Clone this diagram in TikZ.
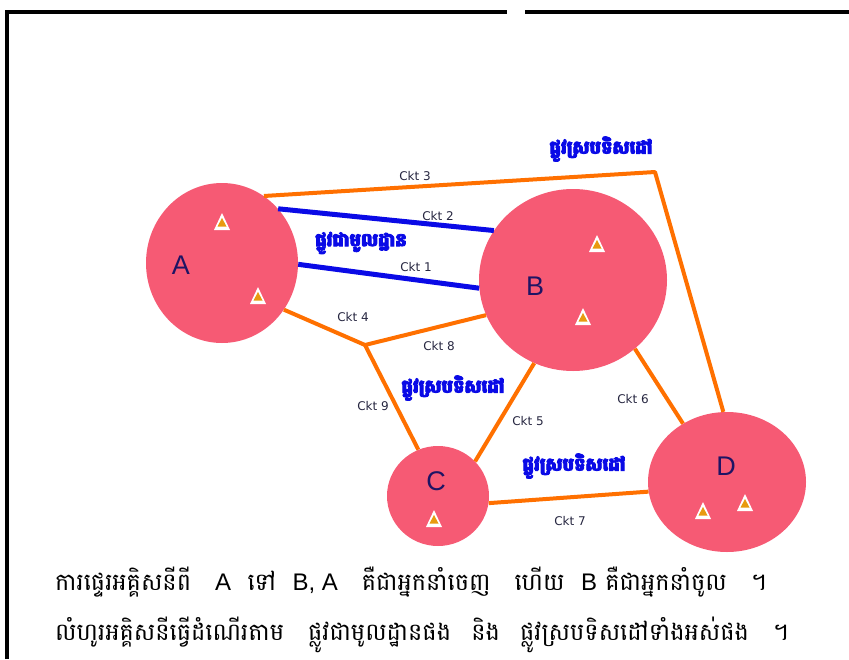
\documentclass[tikz,border=0pt]{standalone}
\usepackage{fontspec}
\setmainfont{Liberation Sans}
\newfontfamily\khmerfont[Script=Khmer]{Battambang}
\newfontfamily\khmerheavy[Script=Khmer,FakeBold=5]{Battambang}
\newfontfamily\latinfont{Liberation Sans}
\newfontfamily\cktfont{DejaVu Sans}
\usetikzlibrary{shapes.geometric}
\definecolor{areapink}{HTML}{F65A74}
\definecolor{tieorange}{HTML}{FF7000}
\definecolor{baseblue}{HTML}{0A0AE6}
\definecolor{lettnavy}{HTML}{1E1464}
\definecolor{cktgray}{HTML}{262640}
\definecolor{genorange}{HTML}{E89A10}
\newcommand{\lat}[1]{{\latinfont #1}}

\begin{document}
\begin{tikzpicture}[
  x=1pt, y=-1pt,
  area/.style={ellipse, fill=areapink, inner sep=0pt},
  lett/.style={font=\fontsize{27}{27}\selectfont, text=lettnavy, inner sep=0pt},
  tie/.style={line width=4pt, draw=tieorange},
  base/.style={line width=5pt, draw=baseblue},
  ckt/.style={font=\cktfont\fontsize{12}{12}\selectfont, text=cktgray, inner sep=0pt},
  pathname/.style={font=\khmerheavy\bfseries\fontsize{18}{18}\selectfont, text=baseblue, inner sep=0pt},
  note/.style={font=\khmerfont\fontsize{24}{24}\selectfont, anchor=west, inner sep=0pt},
  gen/.pic={
    \fill[white] (-8,8) -- (8,8) -- (0,-9) -- cycle;
    \fill[genorange] (-4.5,4.5) -- (4.5,4.5) -- (0,-4) -- cycle;
  },
]
  \useasboundingbox (0,0) rectangle (849,659);

  % frame
  \draw[line width=4pt] (6.5,659) -- (6.5,12) -- (507,12);
  \draw[line width=4pt] (525,12) -- (849,12);

  % areas
  \node[area, minimum width=152pt, minimum height=160pt] (A) at (222,263) {};
  \node[area, minimum width=188pt, minimum height=182pt] (B) at (573,280) {};
  \node[area, minimum width=102pt, minimum height=100pt] (C) at (438,496) {};
  \node[area, minimum width=158pt, minimum height=140pt] (D) at (727,482) {};

  \node[lett] (Alab) at (181,265) {A};
  \node[lett] (Blab) at (535,286) {B};
  \node[lett] (Clab) at (436,481) {C};
  \node[lett] (Dlab) at (726,466) {D};

  % generators
  \pic at (222,222) {gen};
  \pic at (258,296) {gen};
  \pic at (597,244) {gen};
  \pic at (583,317) {gen};
  \pic at (434,519) {gen};
  \pic at (703,511) {gen};
  \pic at (745,503) {gen};

  % junctions
  \coordinate (top) at (655,172);
  \coordinate (mid) at (365,345);

  % circuits
  \draw[tie, line join=round] (A.58) -- (top) -- (D.93);
  \draw[base] (A.44) -- (B.148);
  \draw[base] (A.359) -- (B.185);
  \draw[tie, line join=round] (A.323) -- (mid) -- (B.202);
  \draw[tie] (mid) -- (C.113);
  \draw[tie] (B.245) -- (C.43);
  \draw[tie] (B.312) -- (D.127);
  \draw[tie] (C.352) -- (D.187);

  % circuit labels
  \node[ckt] (c3) at (415,176) {Ckt 3};
  \node[ckt] (c2) at (438,216) {Ckt 2};
  \node[ckt] (c1) at (416,267) {Ckt 1};
  \node[ckt] (c4) at (353,317) {Ckt 4};
  \node[ckt] (c8) at (439,346) {Ckt 8};
  \node[ckt] (c9) at (373,406) {Ckt 9};
  \node[ckt] (c5) at (528,421) {Ckt 5};
  \node[ckt] (c6) at (633,399) {Ckt 6};
  \node[ckt] (c7) at (570,521) {Ckt 7};

  % path names
  \node[pathname] (par1) at (601,149) {ផ្លូវស្របទិសដៅ};
  \node[pathname] (bas) at (361,243) {ផ្លូវជាមូលដ្ឋាន};
  \node[pathname] (par2) at (453,388) {ផ្លូវស្របទិសដៅ};
  \node[pathname] (par3) at (574,466) {ផ្លូវស្របទិសដៅ};

  % caption
  \node[note] (line1) at (55,582) {ការផ្ទេរអគ្គិសនីពី\quad \lat{A}\ \ ទៅ\ \ \lat{B, A}\quad គឺជាអ្នកនាំចេញ\quad ហើយ\ \ \lat{B}\ គឺជាអ្នកនាំចូល\quad ។};
  \node[note] (line2) at (55,635) {លំហូរអគ្គិសនីធ្វើដំណើរតាម\quad ផ្លូវជាមូលដ្ឋានផង\enspace\ និង\enspace\ ផ្លូវស្របទិសដៅទាំងអស់ផង\quad ។};
\end{tikzpicture}
\end{document}
